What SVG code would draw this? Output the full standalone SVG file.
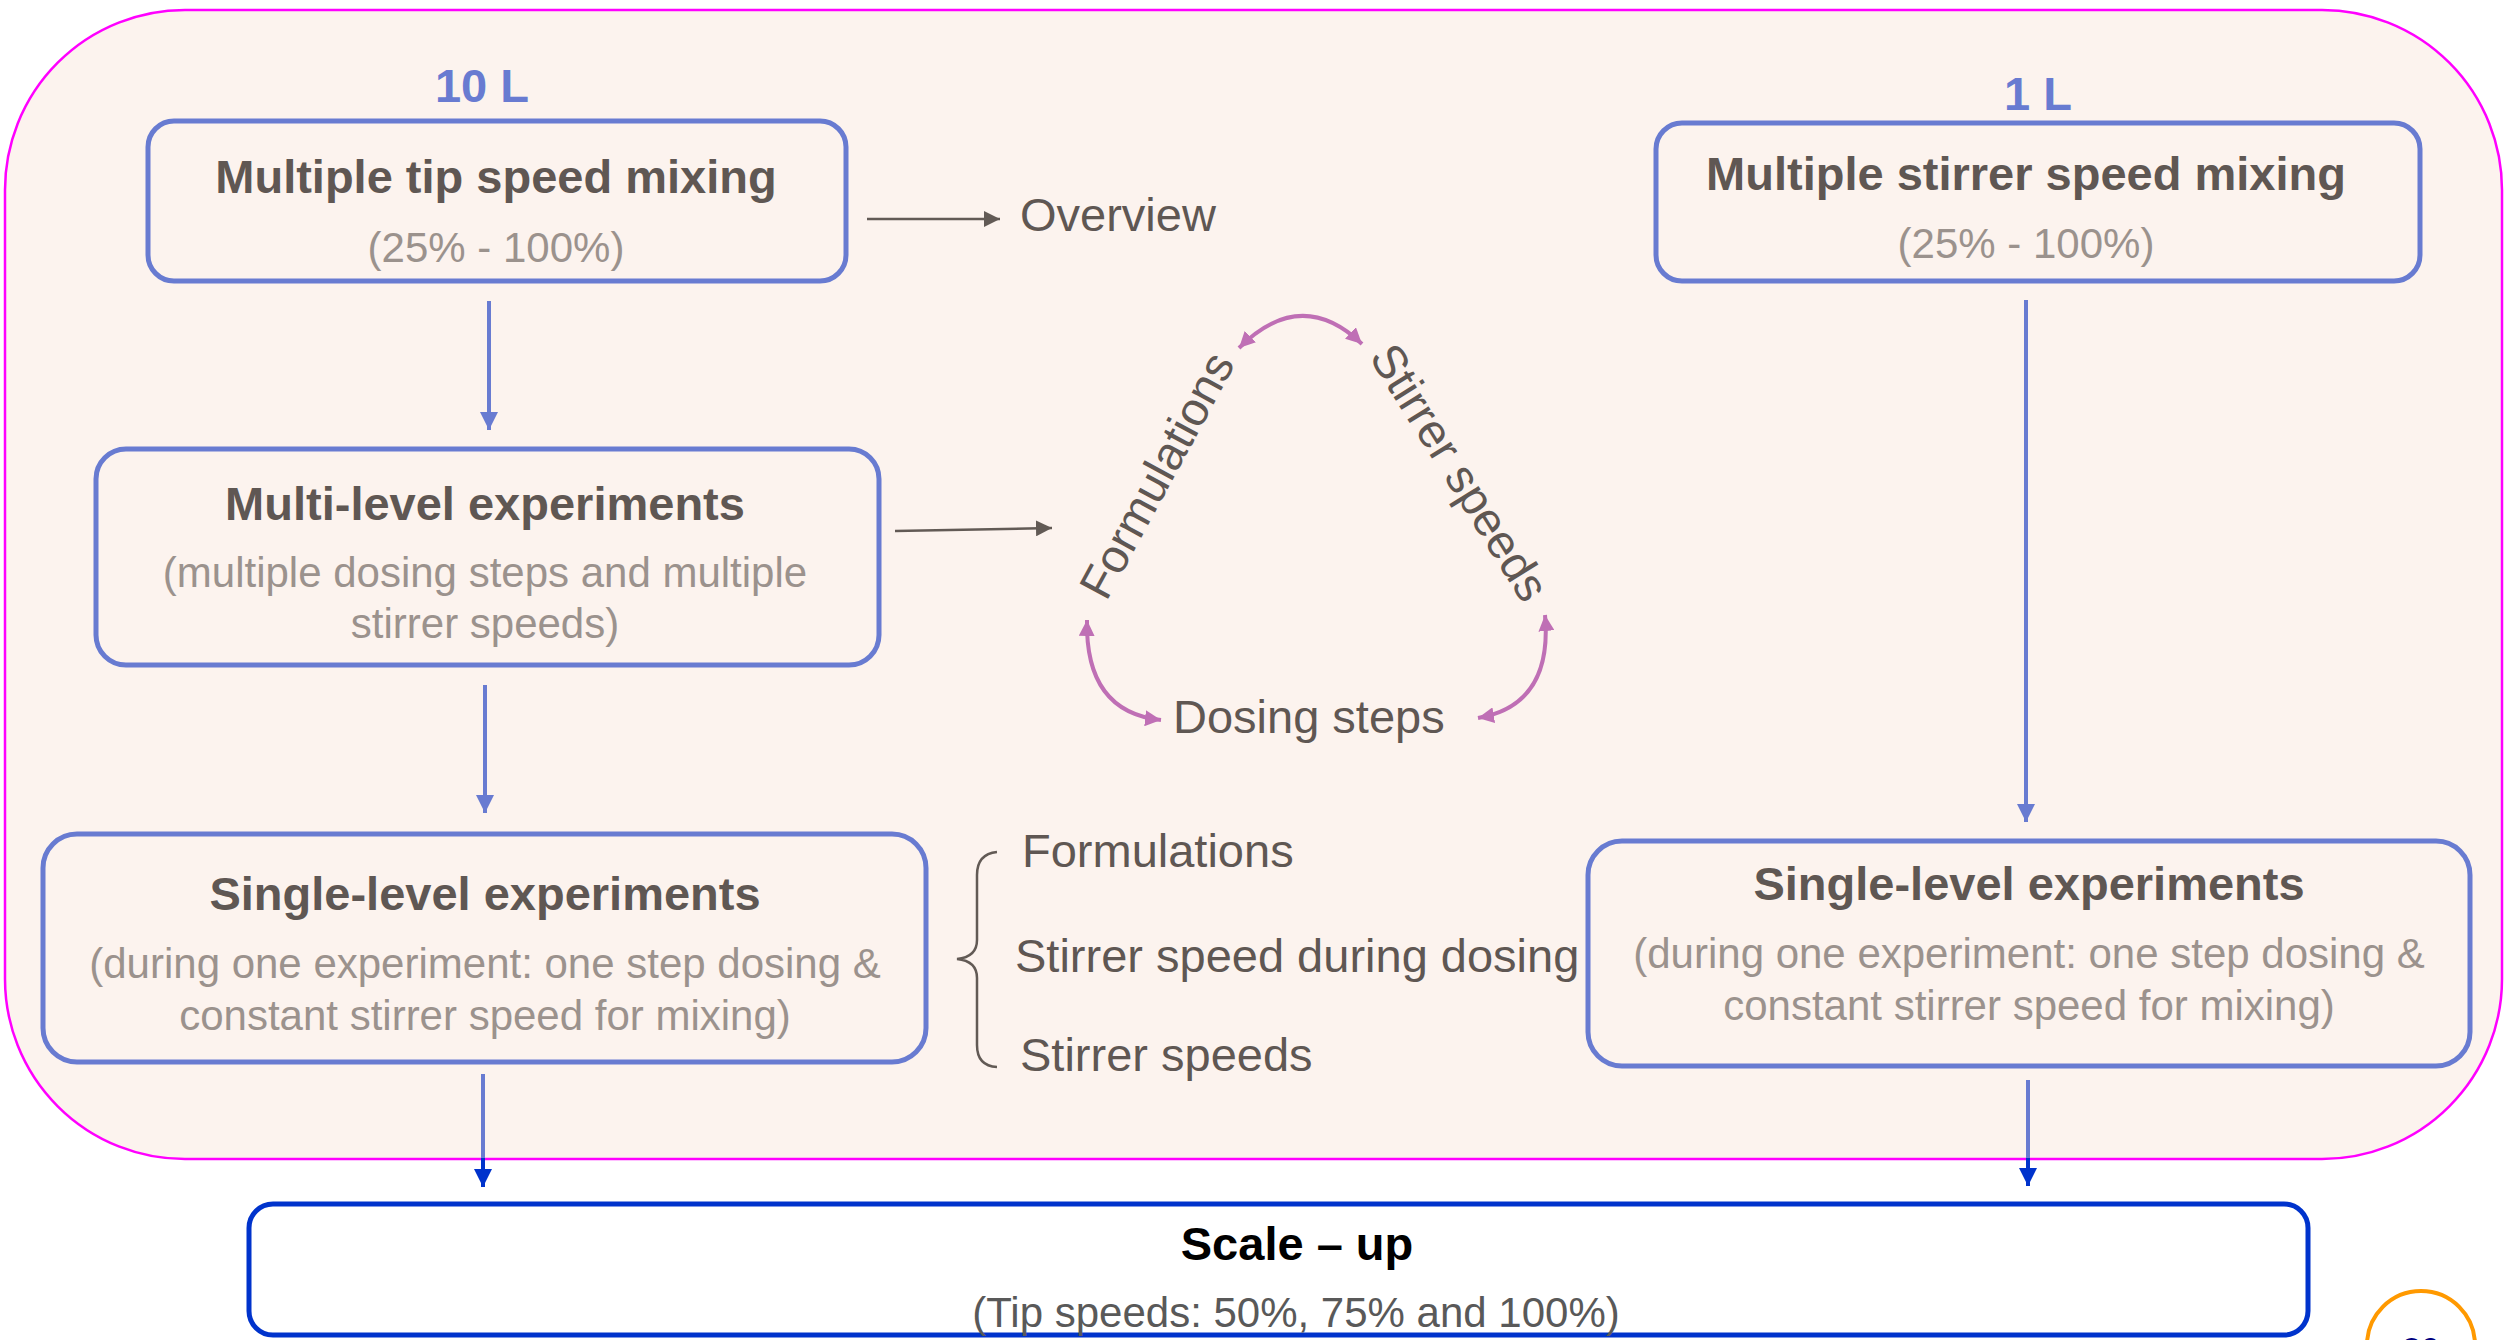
<svg xmlns="http://www.w3.org/2000/svg" width="2504" height="1340" viewBox="0 0 2504 1340">
<style>
.node{fill:none;stroke:#687BD1;stroke-width:5}
.t{font-family:"Liberation Sans",Arial,sans-serif;font-weight:bold;font-size:47px;fill:#5F5753;text-anchor:middle}
.s{font-family:"Liberation Sans",Arial,sans-serif;font-size:42px;fill:#9B928D;text-anchor:middle}
.lbl{font-family:"Liberation Sans",Arial,sans-serif;font-size:47px;fill:#5F5753}
.vol{font-family:"Liberation Sans",Arial,sans-serif;font-weight:bold;font-size:47px;fill:#687BD1;text-anchor:middle}
.blue{stroke:#687BD1;stroke-width:4;fill:none}
.gray{stroke:#625A55;stroke-width:2.5;fill:none}
.pur{stroke:#BF6FB5;stroke-width:4;fill:none}
</style>
<defs>
<marker id="ab" viewBox="0 0 10 10" refX="10" refY="5" markerWidth="18" markerHeight="18" markerUnits="userSpaceOnUse" orient="auto"><path d="M0,0 L10,5 L0,10 z" fill="#687BD1"/></marker>
<marker id="ad" viewBox="0 0 10 10" refX="10" refY="5" markerWidth="18" markerHeight="18" markerUnits="userSpaceOnUse" orient="auto"><path d="M0,0 L10,5 L0,10 z" fill="#0033CC"/></marker>
<marker id="ag" viewBox="0 0 10 10" refX="10" refY="5" markerWidth="16" markerHeight="16" markerUnits="userSpaceOnUse" orient="auto"><path d="M0,0 L10,5 L0,10 z" fill="#625A55"/></marker>
<marker id="ap" viewBox="0 0 10 10" refX="10" refY="5" markerWidth="16" markerHeight="16" markerUnits="userSpaceOnUse" orient="auto-start-reverse"><path d="M0,0 L10,5 L0,10 z" fill="#BF6FB5"/></marker>
</defs>
<rect width="2504" height="1340" fill="#FFFFFF"/>
<rect id="panel" x="5" y="10" width="2497" height="1149" rx="180" ry="180" fill="#FCF3EE" stroke="#FF00FF" stroke-width="2.5"/>

<g id="connectors">
<line class="blue" x1="489" y1="301" x2="489" y2="430" marker-end="url(#ab)"/>
<line class="blue" x1="485" y1="685" x2="485" y2="813" marker-end="url(#ab)"/>
<line class="blue" x1="483" y1="1074" x2="483" y2="1160"/>
<line x1="483" y1="1158" x2="483" y2="1187" stroke="#0033CC" stroke-width="4" marker-end="url(#ad)"/>
<line class="blue" x1="2026" y1="300" x2="2026" y2="822" marker-end="url(#ab)"/>
<line class="blue" x1="2028" y1="1080" x2="2028" y2="1160"/>
<line x1="2028" y1="1158" x2="2028" y2="1186" stroke="#0033CC" stroke-width="4" marker-end="url(#ad)"/>
<line class="gray" x1="867" y1="219" x2="1000" y2="219" marker-end="url(#ag)"/>
<line class="gray" x1="895" y1="531" x2="1052" y2="528" marker-end="url(#ag)"/>
<path class="pur" d="M1239,348 Q1301,286 1362,344" marker-start="url(#ap)" marker-end="url(#ap)"/>
<path class="pur" d="M1087,620 Q1085,712 1161,720" marker-start="url(#ap)" marker-end="url(#ap)"/>
<path class="pur" d="M1545,615 Q1553,705 1478,718" marker-start="url(#ap)" marker-end="url(#ap)"/>
<path class="gray" d="M997,852 Q977,854 977,875 L977,940 Q977,957 957,959 Q977,961 977,978 L977,1045 Q977,1066 997,1067"/>
</g>

<g id="label-10L"><text class="vol" x="482" y="102">10 L</text></g>
<g id="label-1L"><text class="vol" x="2038" y="110">1 L</text></g>

<g id="node-tip-speed">
<rect class="node" x="148" y="121" width="698" height="160" rx="26"/>
<text class="t" x="496" y="193">Multiple tip speed mixing</text>
<text class="s" x="496" y="262">(25% - 100%)</text>
</g>

<g id="node-stirrer-speed">
<rect class="node" x="1656" y="123" width="764" height="158" rx="26"/>
<text class="t" x="2026" y="190">Multiple stirrer speed mixing</text>
<text class="s" x="2026" y="258">(25% - 100%)</text>
</g>

<g id="node-multi-level">
<rect class="node" x="96" y="449" width="783" height="216" rx="30"/>
<text class="t" x="485" y="520">Multi-level experiments</text>
<text class="s" x="485" y="587">(multiple dosing steps and multiple</text>
<text class="s" x="485" y="638">stirrer speeds)</text>
</g>

<g id="node-single-left">
<rect class="node" x="43" y="834" width="883" height="228" rx="34"/>
<text class="t" x="485" y="910">Single-level experiments</text>
<text class="s" x="485" y="978">(during one experiment: one step dosing &amp;</text>
<text class="s" x="485" y="1030">constant stirrer speed for mixing)</text>
</g>

<g id="node-single-right">
<rect class="node" x="1588" y="841" width="882" height="225" rx="34"/>
<text class="t" x="2029" y="900">Single-level experiments</text>
<text class="s" x="2029" y="968">(during one experiment: one step dosing &amp;</text>
<text class="s" x="2029" y="1020">constant stirrer speed for mixing)</text>
</g>

<g id="node-overview"><text class="lbl" x="1020" y="231">Overview</text></g>

<g id="node-formulations-rot"><text class="lbl" text-anchor="middle" transform="translate(1171,483) rotate(-61.5)">Formulations</text></g>
<g id="node-stirrer-rot"><text class="lbl" text-anchor="middle" transform="translate(1446,481) rotate(58)">Stirrer speeds</text></g>
<g id="node-dosing"><text class="lbl" x="1173" y="733">Dosing steps</text></g>

<g id="node-list">
<text class="lbl" x="1022" y="867">Formulations</text>
<text class="lbl" x="1015" y="972">Stirrer speed during dosing</text>
<text class="lbl" x="1020" y="1071">Stirrer speeds</text>
</g>

<g id="node-scale-up">
<rect x="249" y="1204" width="2059" height="131" rx="24" fill="#FFFFFF" stroke="#0033CC" stroke-width="5"/>
<text x="1297" y="1260" font-family="'Liberation Sans',Arial,sans-serif" font-weight="bold" font-size="47" fill="#000000" text-anchor="middle">Scale – up</text>
<text x="1296" y="1327" font-family="'Liberation Sans',Arial,sans-serif" font-size="42" fill="#595959" text-anchor="middle">(Tip speeds: 50%, 75% and 100%)</text>
</g>

<g id="page-number">
<circle cx="2421" cy="1345" r="54" fill="#FFFFFF" stroke="#FF9900" stroke-width="4"/>
<text x="2421" y="1361" font-family="'Liberation Sans',Arial,sans-serif" font-size="34" fill="#000080" text-anchor="middle">20</text>
</g>
</svg>
